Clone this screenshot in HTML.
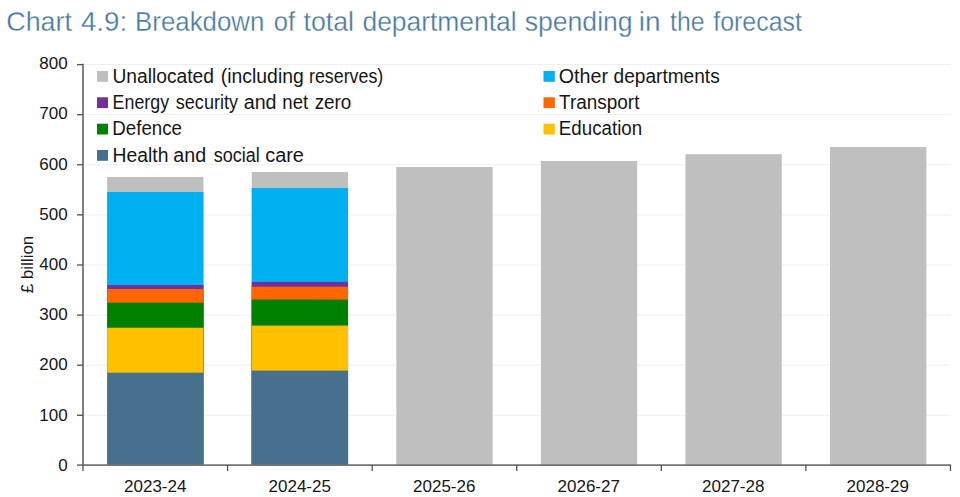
<!DOCTYPE html>
<html>
<head>
<meta charset="utf-8">
<style>
html,body{margin:0;padding:0;background:#fff;width:960px;height:497px;overflow:hidden;}
svg{display:block;font-family:"Liberation Sans",sans-serif;}
.t{fill:#4a79a0;font-size:27.5px;stroke:#fff;stroke-width:0.3px;}
.lg{fill:#161616;font-size:19.5px;}
.ax{fill:#161616;font-size:17px;}
</style>
</head>
<body>
<svg width="960" height="497" viewBox="0 0 960 497">
<g class="t">
<text x="6.32" y="30.6" textLength="65.62" lengthAdjust="spacingAndGlyphs">Chart</text>
<text x="80.9" y="30.6" textLength="46.19" lengthAdjust="spacingAndGlyphs">4.9:</text>
<text x="135.12" y="30.6" textLength="129.28" lengthAdjust="spacingAndGlyphs">Breakdown</text>
<text x="273.87" y="30.6" textLength="21.27" lengthAdjust="spacingAndGlyphs">of</text>
<text x="303.6" y="30.6" textLength="50.42" lengthAdjust="spacingAndGlyphs">total</text>
<text x="362.44" y="30.6" textLength="154.22" lengthAdjust="spacingAndGlyphs">departmental</text>
<text x="524.63" y="30.6" textLength="108.04" lengthAdjust="spacingAndGlyphs">spending</text>
<text x="638.87" y="30.6" textLength="21.76" lengthAdjust="spacingAndGlyphs">in</text>
<text x="670.0" y="30.6" textLength="34.41" lengthAdjust="spacingAndGlyphs">the</text>
<text x="713.3" y="30.6" textLength="88.54" lengthAdjust="spacingAndGlyphs">forecast</text>
</g>

<g stroke="#dcdcdc" stroke-width="1" stroke-dasharray="1 1">
<line x1="83.5" y1="415.3" x2="951" y2="415.3"/>
<line x1="83.5" y1="365.2" x2="951" y2="365.2"/>
<line x1="83.5" y1="315.1" x2="951" y2="315.1"/>
<line x1="83.5" y1="265" x2="951" y2="265"/>
<line x1="83.5" y1="214.9" x2="951" y2="214.9"/>
<line x1="83.5" y1="164.8" x2="951" y2="164.8"/>
<line x1="83.5" y1="114.7" x2="951" y2="114.7"/>
<line x1="83.5" y1="64.6" x2="951" y2="64.6"/>
</g>
<g>
<rect x="107.15" y="177" width="96.3" height="288.4" fill="#bfbfbf"/>
<rect x="107.15" y="192" width="96.3" height="273.4" fill="#00b0f0"/>
<rect x="107.15" y="285" width="96.3" height="180.4" fill="#7030a0"/>
<rect x="107.15" y="289" width="96.3" height="176.4" fill="#ff6600"/>
<rect x="107.15" y="302.7" width="96.3" height="162.7" fill="#008000"/>
<rect x="107.15" y="327.75" width="96.3" height="137.65" fill="#ffc000"/>
<rect x="107.15" y="372.7" width="96.3" height="92.7" fill="#47708f"/>
<rect x="251.73" y="172" width="96.3" height="293.4" fill="#bfbfbf"/>
<rect x="251.73" y="188" width="96.3" height="277.4" fill="#00b0f0"/>
<rect x="251.73" y="281.9" width="96.3" height="183.5" fill="#7030a0"/>
<rect x="251.73" y="286.7" width="96.3" height="178.7" fill="#ff6600"/>
<rect x="251.73" y="299.6" width="96.3" height="165.8" fill="#008000"/>
<rect x="251.73" y="325.6" width="96.3" height="139.8" fill="#ffc000"/>
<rect x="251.73" y="370.6" width="96.3" height="94.8" fill="#47708f"/>
<rect x="396.31" y="167" width="96.3" height="298.4" fill="#bfbfbf"/>
<rect x="540.89" y="161" width="96.3" height="304.4" fill="#bfbfbf"/>
<rect x="685.47" y="154.2" width="96.3" height="311.2" fill="#bfbfbf"/>
<rect x="830.05" y="147" width="96.3" height="318.4" fill="#bfbfbf"/>
</g>
<g stroke="#737373" stroke-width="1.8" fill="none">
<line x1="83" y1="63.8" x2="83" y2="466"/>
<line x1="82" y1="465.05" x2="951" y2="465.05"/>
</g>
<g stroke="#505050" stroke-width="1.3" fill="none">
<line x1="77" y1="415.3" x2="83" y2="415.3"/>
<line x1="77" y1="365.2" x2="83" y2="365.2"/>
<line x1="77" y1="315.1" x2="83" y2="315.1"/>
<line x1="77" y1="265" x2="83" y2="265"/>
<line x1="77" y1="214.9" x2="83" y2="214.9"/>
<line x1="77" y1="164.8" x2="83" y2="164.8"/>
<line x1="77" y1="114.7" x2="83" y2="114.7"/>
<line x1="77" y1="64.6" x2="83" y2="64.6"/>
<line x1="77" y1="465.05" x2="83" y2="465.05"/>
<line x1="83" y1="465" x2="83" y2="471"/>
<line x1="227.58" y1="465" x2="227.58" y2="471"/>
<line x1="372.16" y1="465" x2="372.16" y2="471"/>
<line x1="516.74" y1="465" x2="516.74" y2="471"/>
<line x1="661.32" y1="465" x2="661.32" y2="471"/>
<line x1="805.9" y1="465" x2="805.9" y2="471"/>
<line x1="950.48" y1="465" x2="950.48" y2="471"/>
</g>
<g class="ax" text-anchor="end">
<text x="67.6" y="470.8">0</text>
<text x="67.6" y="420.6">100</text>
<text x="67.6" y="370.4">200</text>
<text x="67.6" y="320.2">300</text>
<text x="67.6" y="270">400</text>
<text x="67.6" y="219.8">500</text>
<text x="67.6" y="169.6">600</text>
<text x="67.6" y="119.4">700</text>
<text x="67.6" y="69.2">800</text>
</g>
<text class="ax" transform="translate(33.2,264.5) rotate(-90)" text-anchor="middle">£ billion</text>
<g class="ax" text-anchor="middle">
<text x="155.25" y="491.8">2023-24</text>
<text x="299.75" y="491.8">2024-25</text>
<text x="444.25" y="491.8">2025-26</text>
<text x="588.75" y="491.8">2026-27</text>
<text x="733.25" y="491.8">2027-28</text>
<text x="877.75" y="491.8">2028-29</text>
</g>
<g>
<rect x="97" y="71" width="11" height="10.8" fill="#bfbfbf"/>
<rect x="97" y="97.3" width="11" height="10.8" fill="#7030a0"/>
<rect x="97" y="123.7" width="11" height="10.8" fill="#008000"/>
<rect x="97" y="150" width="11" height="10.8" fill="#47708f"/>
<rect x="543.5" y="71" width="11.3" height="10.8" fill="#00b0f0"/>
<rect x="543.5" y="97.3" width="11.3" height="10.8" fill="#ff6600"/>
<rect x="543.5" y="123.7" width="11.3" height="10.8" fill="#ffc000"/>
</g>
<g class="lg">
<text x="112.51" y="82.5" textLength="101.45" lengthAdjust="spacingAndGlyphs">Unallocated</text>
<text x="220.76" y="82.5" textLength="83.01" lengthAdjust="spacingAndGlyphs">(including</text>
<text x="308.99" y="82.5" textLength="74.28" lengthAdjust="spacingAndGlyphs">reserves)</text>
<text x="112.59" y="108.8" textLength="56.48" lengthAdjust="spacingAndGlyphs">Energy</text>
<text x="175.8" y="108.8" textLength="62.17" lengthAdjust="spacingAndGlyphs">security</text>
<text x="243.69" y="108.8" textLength="32.86" lengthAdjust="spacingAndGlyphs">and</text>
<text x="282.35" y="108.8" textLength="25.86" lengthAdjust="spacingAndGlyphs">net</text>
<text x="314.7" y="108.8" textLength="36.6" lengthAdjust="spacingAndGlyphs">zero</text>
<text x="112.34" y="135.2" textLength="69.67" lengthAdjust="spacingAndGlyphs">Defence</text>
<text x="112.51" y="161.5" textLength="55.96" lengthAdjust="spacingAndGlyphs">Health</text>
<text x="173.39" y="161.5" textLength="32.86" lengthAdjust="spacingAndGlyphs">and</text>
<text x="213.75" y="161.5" textLength="46.04" lengthAdjust="spacingAndGlyphs">social</text>
<text x="265.23" y="161.5" textLength="38.73" lengthAdjust="spacingAndGlyphs">care</text>
<text x="558.69" y="82.5" textLength="49.29" lengthAdjust="spacingAndGlyphs">Other</text>
<text x="613.62" y="82.5" textLength="106.08" lengthAdjust="spacingAndGlyphs">departments</text>
<text x="559.1" y="108.8" textLength="80.34" lengthAdjust="spacingAndGlyphs">Transport</text>
<text x="558.84" y="135.2" textLength="83.37" lengthAdjust="spacingAndGlyphs">Education</text>
</g>
</svg>
</body>
</html>
